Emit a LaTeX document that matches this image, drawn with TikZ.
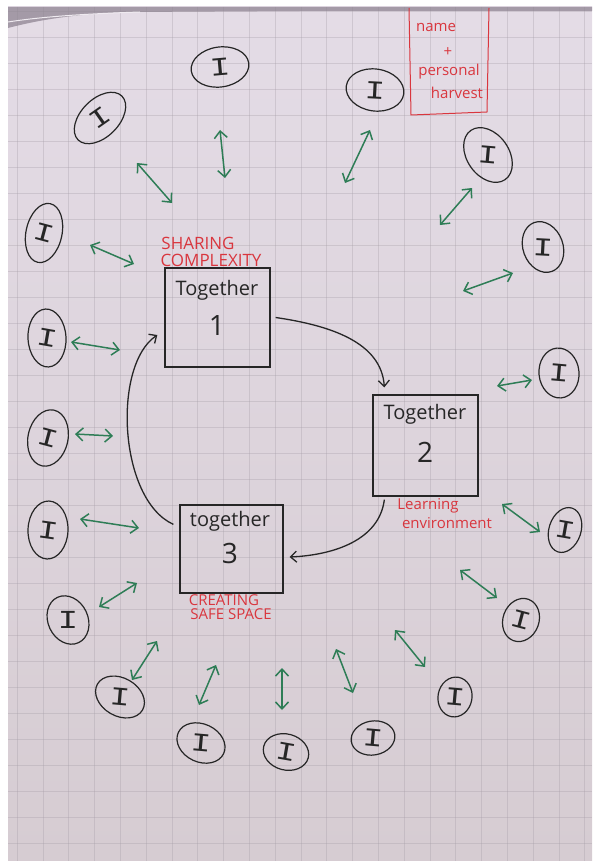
\documentclass[tikz,border=0pt]{standalone}
\usepackage{fontspec}
\usepackage{graphicx}
\usetikzlibrary{shapes.geometric,arrows.meta,calc}
\setmainfont{Open Sans}
\newfontfamily\ichfont{Liberation Mono}

\definecolor{inkblack}{HTML}{262626}
\definecolor{inkred}{HTML}{D9363E}
\definecolor{inkgreen}{HTML}{2E7D56}
\definecolor{papertop}{HTML}{E4DCE6}
\definecolor{papermid}{HTML}{E3EBE6}
\definecolor{paperbot}{HTML}{D6CCD2}
\definecolor{gridline}{HTML}{A79FA9}
\definecolor{topshade}{HTML}{8F8592}

\begin{document}
\begin{tikzpicture}[x=1pt,y=-1pt,
  stagebox/.style={draw=inkblack, line width=1.3pt, rectangle, inner sep=0pt},
  stagetext/.style={text=inkblack, inner sep=0pt, font=\fontsize{20}{20}\selectfont},
  stagenum/.style={text=inkblack, inner sep=0pt, font=\fontsize{28}{28}\selectfont},
  pers/.style={draw=inkblack, line width=1.2pt, ellipse, inner sep=0pt},
  ichar/.style={text=inkblack, inner sep=0pt, font=\ichfont\fontsize{26}{26}\selectfont},
  link/.style={draw=inkgreen, line width=1.5pt,
    {Straight Barb[length=7pt,width=13pt]}-{Straight Barb[length=7pt,width=13pt]}},
  flow/.style={draw=inkblack, line width=1.3pt, -{Straight Barb[length=6pt,width=11pt]}},
  caps/.style={text=inkred, inner sep=0pt, font=\fontsize{17}{17}\selectfont},
  script/.style={text=inkred, inner sep=0pt, font=\fontsize{15}{15}\selectfont},
  gridstroke/.style={draw=gridline, line width=0.6pt, opacity=0.35}
]
\useasboundingbox (0,0) rectangle (592,861);

% sheet of squared flip-chart paper
\fill[white] (0,0) rectangle (592,861);
\shade[top color=papertop, middle color=papermid, bottom color=paperbot]
  (8,7) rectangle (592,861);
\foreach \i in {0,...,22}
  \draw[gridstroke] ({17+25.8*\i},7) -- ({17+25.8*\i},861);
\foreach \j in {0,...,32}
  \draw[gridstroke] (8,{11+26*\j}) -- (592,{11+26*\j});

% curled top edge
\fill[topshade, opacity=0.75] (8,7) -- (592,7) -- (592,11) -- (300,11) -- (130,12)
  .. controls (70,14) and (35,21) .. (8,28) -- cycle;
\draw[papertop!60!white, line width=1pt] (8,22) .. controls (40,17) and (80,14) .. (140,12);

% the three stages
\node[stagebox, minimum width=105pt, minimum height=99pt] (b1) at (217.5,317.5) {};
\node[stagebox, minimum width=105pt, minimum height=101pt] (b2) at (425.5,445.5) {};
\node[stagebox, minimum width=103pt, minimum height=88pt] (b3) at (231.5,549) {};

\node[stagetext] (t1) at (217,290) {Together};
\node[stagenum]  (n1) at (217,326) {1};
\node[stagetext] (t2) at (425,414) {Together};
\node[stagenum]  (n2) at (425,452) {2};
\node[stagetext] (t3) at (230,521) {together};
\node[stagenum]  (n3) at (230,553) {3};

% stage captions
\node[caps] (c1a) at (198,243) {SHARING};
\node[caps] (c1b) at (211,260) {COMPLEXITY};
\node[script] (c2a) at (428,506) {Learning};
\node[script] (c2b) at (447,523) {environment};
\node[caps, font=\fontsize{15}{15}\selectfont] (c3a) at (224,600) {CREATING};
\node[caps, font=\fontsize{15}{15}\selectfont] (c3b) at (231,614) {SAFE SPACE};

% harvest note, top right
\draw[inkred, line width=1pt] (409,8) -- (411,115) -- (487,112) -- (489,8);
\node[script] (h1) at (436,27) {name};
\node[script] (h2) at (448,52) {+};
\node[script] (h3) at (449,72) {personal};
\node[script] (h4) at (457,93) {harvest};

% cycle between the stages
\draw[flow] ([xshift=5pt]b1.east) .. controls +(55,8) and +(-3,-45) ..
  ([xshift=12pt,yshift=7pt]b2.north west);
\draw[flow] ([xshift=12pt,yshift=-3pt]b2.south west) .. controls +(-5,40) and +(45,-2) ..
  ([xshift=6pt,yshift=-8pt]b3.east);
\draw[flow] ([xshift=-6pt,yshift=-20pt]b3.north west) .. controls +(-55,-25) and +(-45,30) ..
  ([xshift=-7pt,yshift=-17.5pt]b1.west);

% individuals around the cycle
\foreach \n/\px/\py/\ma/\mi/\r/\t in {
  e1/220/67/58/40/8/5, e2/100/118/62/38/45/35, e3/375/90/58/42/-8/-3,
  e4/488/155/60/42/-55/-5, e5/543/247/52/40/110/-3, e6/44/233/60/36/78/-15,
  e7/47/338/58/38/93/-10, e8/48/438/57/40/78/-15, e9/48/530/58/40/88/-8,
  e10/559/373/50/40/95/-5, e11/565/530/46/32/72/-10, e12/68/620/50/40/115/0,
  e13/521/620/44/36/70/-15, e14/120/697/52/38/-30/-5, e15/455/697/40/34/80/-5,
  e16/201/743/50/38/-25/-5, e17/286/752/46/36/-15/-10, e18/373/738/44/34/10/-5}{
  \node[pers, minimum width=\ma pt, minimum height=\mi pt, rotate=\r] (\n) at (\px,\py) {};
  \node[ichar, rotate=\t] (\n i) at (\n.center) {\scalebox{1.3}[1]{I}};
}

% two-way exchanges
\foreach \n/\ax/\ay/\bx/\by in {
  a/220/130/225/178, b/137/163/172/203, c/370/130/345/183, d/472/188/440/225,
  e/90/245/134/264, f/513/273/463/291, g/71/342/120/350, h/75/434/113/436,
  i/80/519/139/528, j/497/386/532/380, k/502/504/540/532, l/99/607/137/583,
  m/460/570/497/598, n/132/680/157/641, o/199/705/216/665, p/282/668/282/710,
  q/336/649/353/693, r/395/630/425/667}{
  \coordinate (g\n1) at (\ax,\ay);
  \coordinate (g\n2) at (\bx,\by);
  \draw[link] (g\n1) -- (g\n2);
}
\end{tikzpicture}
\end{document}
